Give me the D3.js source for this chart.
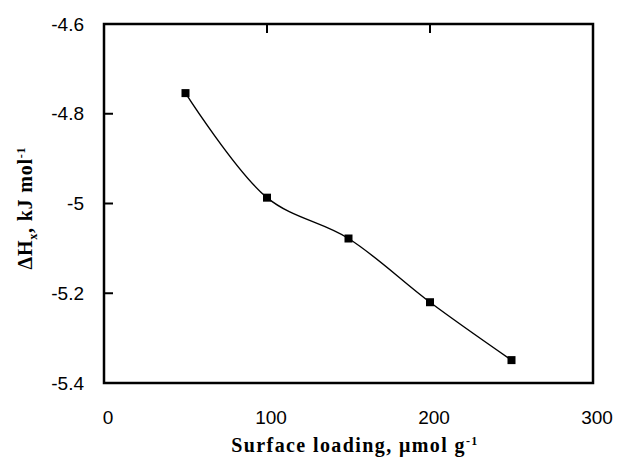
<!DOCTYPE html>
<meta charset="utf-8">
<title>Surface loading vs dHx</title>
<script src="https://d3js.org/d3.v7.min.js"></script>
<style>
  body { margin: 0; background: #fff; }
</style>
<body>
</body>
<script>
  const loading = [50, 100, 150, 200, 250];
  const dH = [-4.754, -4.987, -5.078, -5.220, -5.349];
  const xTicks = [0, 100, 200, 300];
  const yTicks = [-4.6, -4.8, -5, -5.2, -5.4];

  const width = 619, height = 462;
  const mLeft = 104, mRight = 593, mTop = 24, mBottom = 383;

  const svg = d3.select("body").append("svg")
      .attr("width", width).attr("height", height);

  const x = d3.scaleLinear().domain([0, 300]).range([mLeft, mRight]);
  const y = d3.scaleLinear().domain([-4.6, -5.4]).range([mTop, mBottom]);

  // tick labels
  svg.append("g").selectAll("text")
    .data(yTicks)
    .join("text")
      .attr("x", mLeft - 20)
      .attr("y", d => y(d))
      .attr("dy", "0.35em")
      .attr("text-anchor", "end")
      .style("font-family", "Liberation Sans, Arial, sans-serif")
      .style("font-size", "19px")
      .text(d => d);

  svg.append("g").selectAll("text")
    .data(xTicks)
    .join("text")
      .attr("x", d => x(d) + 4)
      .attr("y", mBottom + 41)
      .attr("text-anchor", "middle")
      .style("font-family", "Liberation Sans, Arial, sans-serif")
      .style("font-size", "19px")
      .text(d => d);

  // inner ticks: left axis and top axis
  svg.append("g").selectAll("line")
    .data(yTicks.slice(1, -1))
    .join("line")
      .attr("x1", mLeft).attr("x2", mLeft + 9)
      .attr("y1", d => y(d)).attr("y2", d => y(d))
      .attr("stroke", "#000").attr("stroke-width", 2);

  svg.append("g").selectAll("line")
    .data(xTicks.slice(1, -1))
    .join("line")
      .attr("x1", d => x(d)).attr("x2", d => x(d))
      .attr("y1", mTop).attr("y2", mTop + 9)
      .attr("stroke", "#000").attr("stroke-width", 2);

  // frame
  svg.append("rect")
      .attr("x", mLeft).attr("y", mTop)
      .attr("width", mRight - mLeft).attr("height", mBottom - mTop)
      .attr("fill", "none")
      .attr("stroke", "#000")
      .attr("stroke-width", 2.5);

  const pts = loading.map((d, i) => [d, dH[i]]);

  const line = d3.line()
      .x(d => x(d[0]))
      .y(d => y(d[1]))
      .curve(d3.curveCatmullRom.alpha(0.5));

  svg.append("path")
      .datum(pts)
      .attr("d", line)
      .attr("fill", "none")
      .attr("stroke", "#000")
      .attr("stroke-width", 1.4);

  svg.append("g").selectAll("rect")
    .data(pts)
    .join("rect")
      .attr("x", d => x(d[0]) - 4)
      .attr("y", d => y(d[1]) - 4)
      .attr("width", 8).attr("height", 8)
      .attr("fill", "#000");

  // axis titles
  const xt = svg.append("text")
      .attr("x", 355)
      .attr("y", 452)
      .attr("text-anchor", "middle")
      .style("font-family", "Liberation Serif, Times New Roman, serif")
      .style("font-weight", "bold")
      .style("font-size", "20px")
      .style("letter-spacing", "1.4px");
  xt.append("tspan").text("Surface loading, \u03bcmol g");
  xt.append("tspan").attr("dy", -7).style("font-size", "12px").text("-1");

  const yt = svg.append("text")
      .attr("transform", "translate(32,208) rotate(-90)")
      .attr("text-anchor", "middle")
      .style("font-family", "Liberation Serif, Times New Roman, serif")
      .style("font-weight", "bold")
      .style("font-size", "20px")
      .style("letter-spacing", "0.8px");
  yt.append("tspan").text("\u0394H");
  yt.append("tspan").attr("dy", 5).style("font-size", "12px").text("x");
  yt.append("tspan").attr("dy", -5).text(", kJ mol");
  yt.append("tspan").attr("dy", -7).style("font-size", "12px").text("-1");
</script>
